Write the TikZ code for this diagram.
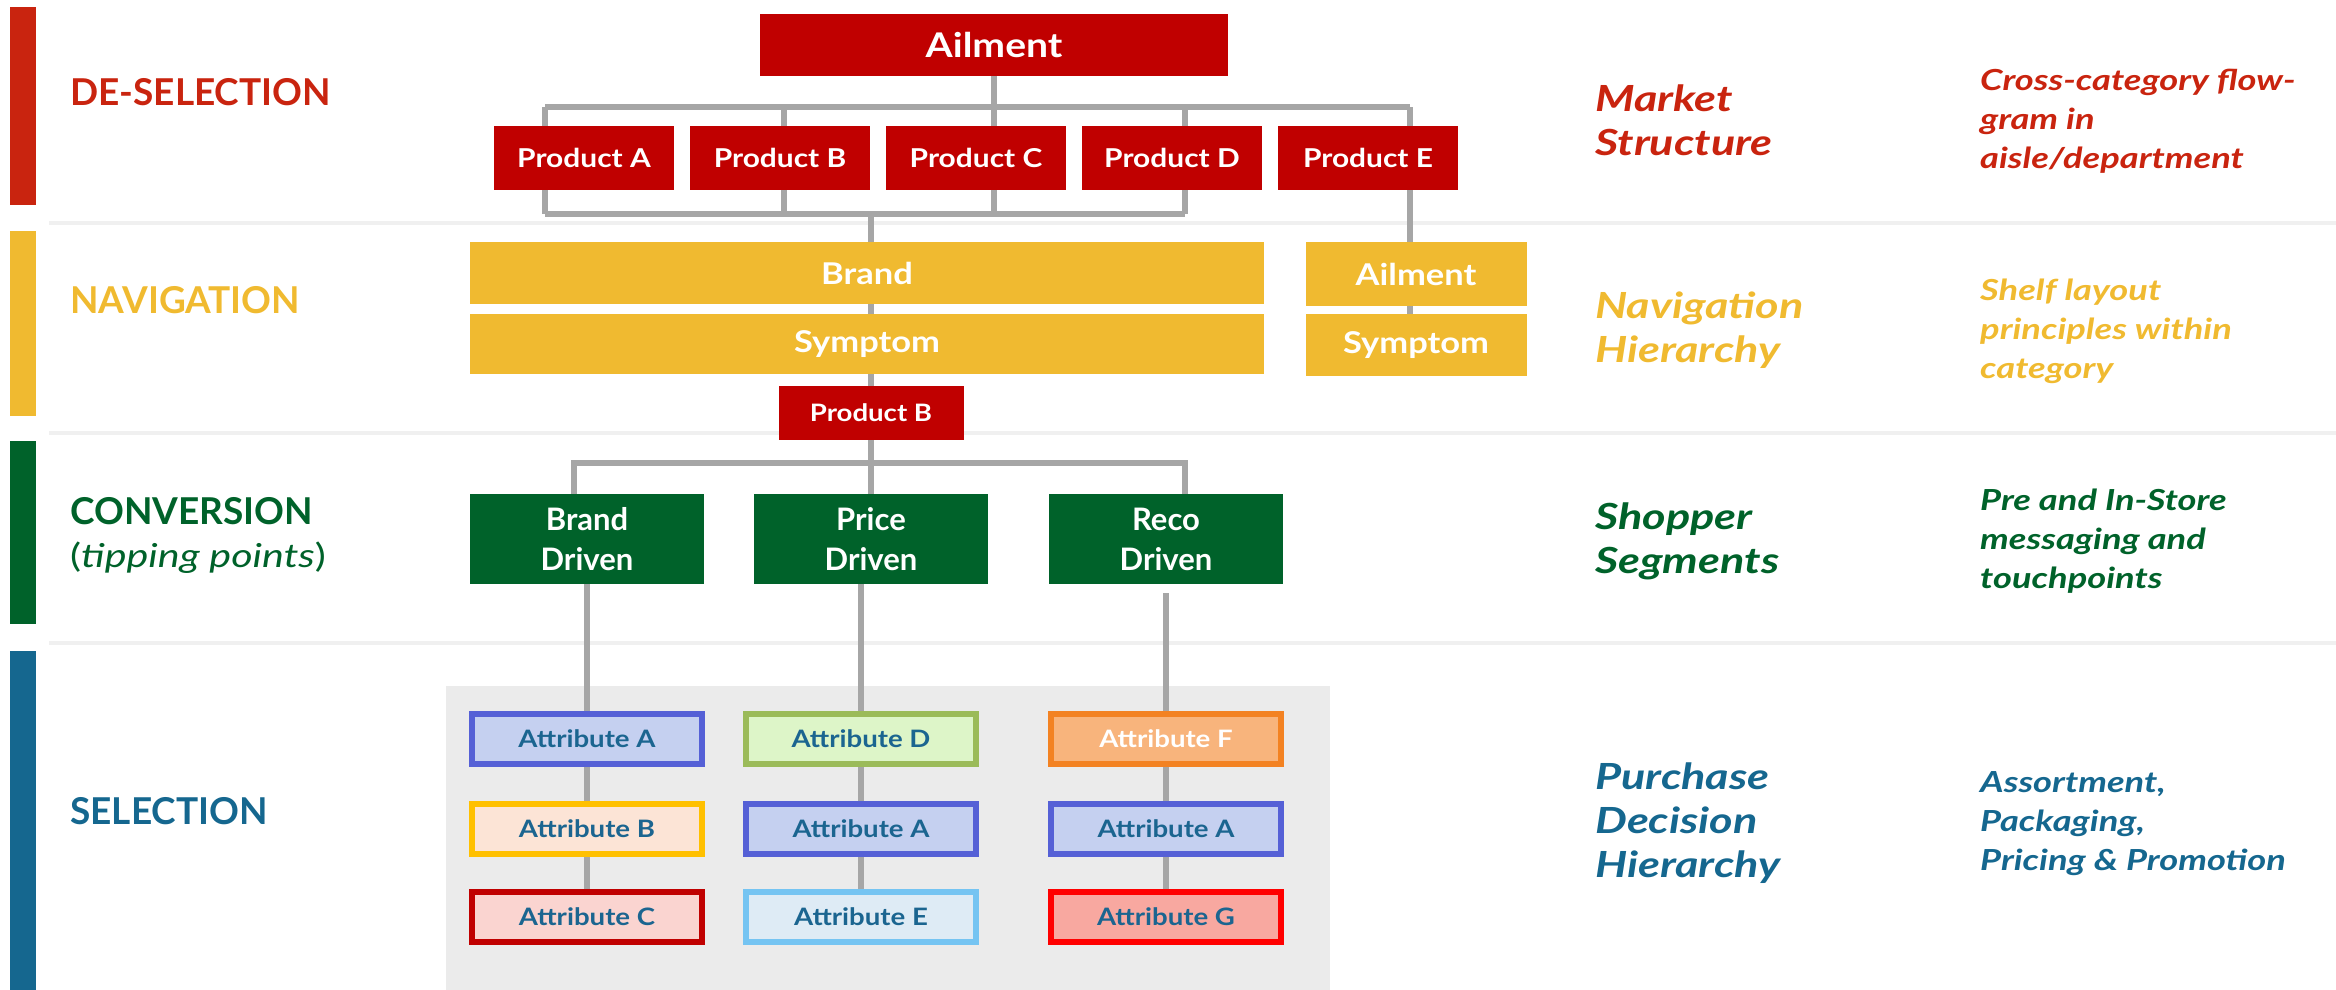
\documentclass[tikz,border=0pt]{standalone}
\usepackage{fontspec}
\setmainfont{Lato}
\newfontfamily\boxfont{Lato}[FakeStretch=1.15]
\newfontfamily\notefont{Lato}[FakeStretch=1.25]
\usepackage{tikz}
\definecolor{ailred}{HTML}{C00000}
\definecolor{stagered}{HTML}{C9240F}
\definecolor{navyellow}{HTML}{F0BA30}
\definecolor{convgreen}{HTML}{00622A}
\definecolor{selblue}{HTML}{15678F}
\definecolor{linkgrey}{HTML}{A6A6A6}
\definecolor{rulegrey}{HTML}{F0F0F0}
\definecolor{panelgrey}{HTML}{EBEBEB}
\definecolor{attrtext}{HTML}{1B6590}
\definecolor{lineA}{HTML}{5560D6} \definecolor{fillA}{HTML}{C5D0F0}
\definecolor{lineB}{HTML}{FFC000} \definecolor{fillB}{HTML}{FCE4D6}
\definecolor{lineC}{HTML}{C00000} \definecolor{fillC}{HTML}{FAD4D0}
\definecolor{lineD}{HTML}{9BBB59} \definecolor{fillD}{HTML}{DDF5C8}
\definecolor{lineE}{HTML}{75C4F2} \definecolor{fillE}{HTML}{DEEBF5}
\definecolor{lineF}{HTML}{F38222} \definecolor{fillF}{HTML}{F8B47C}
\definecolor{lineG}{HTML}{FF0000} \definecolor{fillG}{HTML}{F8A8A0}
\tikzstyle{market}=[rectangle, fill=ailred, text=white, inner sep=0pt, font=\boxfont\bfseries\fontsize{26}{30}\selectfont, minimum width=180pt, minimum height=64pt]
\tikzstyle{shelf}=[rectangle, fill=navyellow, text=white, inner sep=0pt, font=\boxfont\bfseries\fontsize{30}{36}\selectfont]
\tikzstyle{shopper}=[rectangle, fill=convgreen, text=white, inner sep=0pt, align=center, font=\bfseries\fontsize{31}{40}\selectfont, minimum width=234pt, minimum height=90pt]
\tikzstyle{attribute}=[rectangle, draw, line width=6pt, inner sep=0pt, text=attrtext, font=\boxfont\bfseries\fontsize{24}{28}\selectfont, minimum width=230pt, minimum height=50pt]
\tikzstyle{link}=[draw=linkgrey, line width=5.5pt]
\tikzstyle{stage}=[anchor=west, inner sep=0pt, font=\bfseries\fontsize{37}{44}\selectfont]
\tikzstyle{outcome}=[anchor=west, inner sep=0pt, align=left, font=\notefont\bfseries\itshape\fontsize{36}{44}\selectfont]
\tikzstyle{action}=[anchor=west, inner sep=0pt, align=left, font=\notefont\bfseries\itshape\fontsize{29}{39}\selectfont]

\begin{document}
\begin{tikzpicture}[x=1pt, y=-1pt]
    \useasboundingbox (0,0) rectangle (2336,990);
    % stage bars and row rules
    \fill[stagered]  (10,7)   rectangle (36,205);
    \fill[navyellow] (10,231) rectangle (36,416);
    \fill[convgreen] (10,441) rectangle (36,624);
    \fill[selblue]   (10,651) rectangle (36,990);
    \foreach \y in {223, 433, 643}
        \draw[rulegrey, line width=4pt] (49,\y) -- (2336,\y);
    \fill[panelgrey] (446,686) rectangle (1330,990);

    \node[stage, text=stagered]  (s1) at (70,92)  {DE-SELECTION};
    \node[stage, text=navyellow] (s2) at (70,300) {NAVIGATION};
    \node[stage, text=convgreen] (s3) at (70,511) {CONVERSION};
    \node[anchor=west, inner sep=0pt, text=convgreen, font=\notefont\fontsize{33}{38}\selectfont] (s3b) at (70,558) {(\textit{tipping points})};
    \node[stage, text=selblue]   (s4) at (70,811) {SELECTION};

    % market structure
    \node[market, minimum width=468pt, minimum height=62pt, font=\boxfont\bfseries\fontsize{34}{40}\selectfont] (ail) at (994,45) {Ailment};
    \node[market] (pA) at (584,158)  {Product A};
    \node[market] (pB) at (780,158)  {Product B};
    \node[market] (pC) at (976,158)  {Product C};
    \node[market] (pD) at (1172,158) {Product D};
    \node[market] (pE) at (1368,158) {Product E};
    \coordinate (t1) at (545,107);  \coordinate (b1) at (545,214);
    \coordinate (t2) at (784,107);  \coordinate (b2) at (784,214);
    \coordinate (t3) at (994,107);  \coordinate (b3) at (994,214);
    \coordinate (t4) at (1185,107); \coordinate (b4) at (1185,214);
    \coordinate (t5) at (1410,107); \coordinate (bm) at (871,214);
    \draw[link] (ail.south) -- (t3);
    \draw[link] (t1) -- (t5);
    \draw[link] (b1) -- (b4);
    \foreach \i/\p in {1/pA, 2/pB, 3/pC, 4/pD}
        \draw[link] (t\i) -- (t\i |- \p.north) (b\i) -- (b\i |- \p.south);
    \draw[link] (t5) -- (t5 |- pE.north);

    % navigation
    \node[shelf, minimum width=794pt, minimum height=62pt] (brand) at (867,273) {Brand};
    \node[shelf, minimum width=794pt, minimum height=60pt] (sym) at (867,344) {Symptom};
    \node[shelf, minimum width=221pt, minimum height=64pt] (yail) at (1416,274) {Ailment};
    \node[shelf, minimum width=221pt, minimum height=62pt] (ysym) at (1416,345) {Symptom};
    \node[market, minimum width=185pt, minimum height=54pt, font=\boxfont\bfseries\fontsize{24}{28}\selectfont] (prodb) at (871,413) {Product B};
    \draw[link] (bm) -- (bm |- brand.north);
    \draw[link] (bm |- brand.south) -- (bm |- sym.north);
    \draw[link] (bm |- sym.south) -- (prodb.north);
    \draw[link] (t5 |- pE.south) -- (t5 |- yail.north);
    \draw[link] (t5 |- yail.south) -- (t5 |- ysym.north);

    % shopper segments
    \node[shopper] (brd) at (587,539)  {Brand\\Driven};
    \node[shopper] (prc) at (871,539)  {Price\\Driven};
    \node[shopper] (rec) at (1166,539) {Reco\\Driven};
    \coordinate (c1) at (574,463); \coordinate (c3) at (1185,463);
    \draw[link] (prodb.south) -- (prc.north);
    \draw[link] (c1 |- brd.north) -- (c1) -- (c3) -- (c3 |- rec.north);

    % purchase decision hierarchy
    \node[attribute, draw=lineA, fill=fillA] (a11) at (587,739) {Attribute A};
    \node[attribute, draw=lineB, fill=fillB] (a12) at (587,829) {Attribute B};
    \node[attribute, draw=lineC, fill=fillC] (a13) at (587,917) {Attribute C};
    \node[attribute, draw=lineD, fill=fillD] (a21) at (861,739) {Attribute D};
    \node[attribute, draw=lineA, fill=fillA] (a22) at (861,829) {Attribute A};
    \node[attribute, draw=lineE, fill=fillE] (a23) at (861,917) {Attribute E};
    \node[attribute, draw=lineF, fill=fillF, text=white] (a31) at (1166,739) {Attribute F};
    \node[attribute, draw=lineA, fill=fillA] (a32) at (1166,829) {Attribute A};
    \node[attribute, draw=lineG, fill=fillG] (a33) at (1166,917) {Attribute G};
    \draw[link] (brd.south) -- (a11.north);
    \draw[link] (prc.south -| a21) -- (a21.north);
    \draw[link, shorten <=9pt] (rec.south) -- (a31.north);
    \foreach \c in {1,2,3}
        \draw[link] (a\c1.south) -- (a\c2.north) (a\c2.south) -- (a\c3.north);

    % outcomes and actions
    \node[outcome, text=stagered]  (o1) at (1595,120) {Market\\Structure};
    \node[outcome, text=navyellow] (o2) at (1595,330) {Navigation\\Hierarchy};
    \node[outcome, text=convgreen] (o3) at (1595,541) {Shopper\\Segments};
    \node[outcome, text=selblue]   (o4) at (1595,823) {Purchase\\Decision\\Hierarchy};
    \node[action, text=stagered]  (d1) at (1980,121) {Cross-category flow-\\gram in\\aisle/department};
    \node[action, text=navyellow] (d2) at (1980,331) {Shelf layout\\principles within\\category};
    \node[action, text=convgreen] (d3) at (1980,541) {Pre and In-Store\\messaging and\\touchpoints};
    \node[action, text=selblue]   (d4) at (1980,824) {Assortment,\\Packaging,\\Pricing \& Promotion};
\end{tikzpicture}
\end{document}
